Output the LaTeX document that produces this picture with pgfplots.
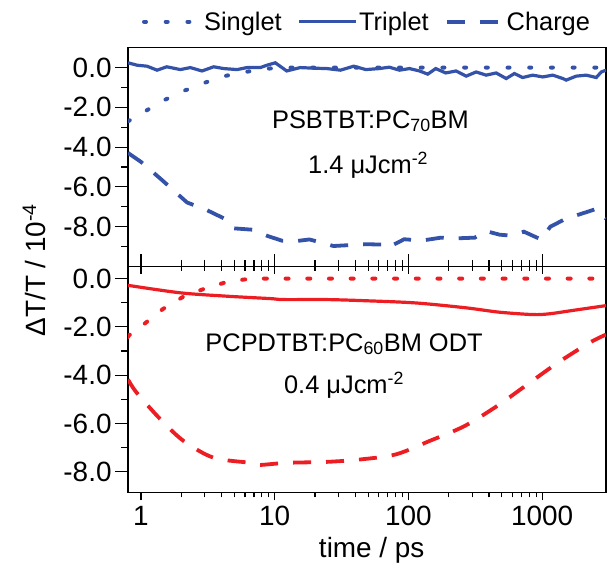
\documentclass[border=0pt]{standalone}
\usepackage{fontspec}
\setmainfont{Liberation Sans}
\usepackage{pgfplots}
\pgfplotsset{compat=1.18}
\definecolor{cblue}{RGB}{52,82,168}
\definecolor{cred}{RGB}{236,30,36}
\newcommand{\tfont}{\fontsize{28}{32}\selectfont}
\newcommand{\afont}{\fontsize{25.5}{30}\selectfont}
\tikzset{
  mydot/.style={line width=4bp, line cap=round, dash pattern=on 2bp off 19.7bp},
  mydotr/.style={line width=4bp, line cap=round, dash pattern=on 3bp off 18.7bp},
  mysol/.style={line width=3.2bp},
  mydash/.style={line width=3.8bp, dash pattern=on 18bp off 15bp},
}
\begin{document}
\begin{tikzpicture}
% ---------- top panel ----------
\begin{axis}[scale only axis, width=478bp, height=218.8bp,
  at={(128bp,520.3bp)}, anchor=north west,
  xmode=log, xmin=0.8, xmax=3000, ymin=-10, ymax=1,
  axis line style={line width=1.2bp},
  tick style={black, line width=1.1bp},
  tick label style={font=\tfont},
  ytick pos=left, ytick align=outside,
  ytick={-8,-6,-4,-2,0},
  yticklabels={-8.0,-6.0,-4.0,-2.0,0.0},
  minor ytick={-9,-7,-5,-3,-1},
  major tick length=13bp, minor tick length=7bp,
  xmajorticks=false, xminorticks=false,
  xtick={1,10,100,1000}, xticklabels={},
  legend columns=3,
  legend image post style={xscale=3.3},
  legend style={at={(0.5,1)}, anchor=center, yshift=26bp, draw=none, fill=none,
    font=\fontsize{25.5}{30}\selectfont,
    /tikz/every even column/.append style={column sep=14bp}},
]
\addplot[cblue, mydot] coordinates {
(0.8,-2.7)(0.83,-2.64)(1.11,-2.14)(1.52,-1.61)(2.15,-1.14)(3.03,-0.75)(4.27,-0.42)(6.0,-0.22)(9,-0.05)(12,0)(100,0)(1000,0)(3000,0)};
\addlegendentry{Singlet}
\addplot[cblue, mysol] coordinates {
(0.8,0.24)(0.935,0.12)(1.11,0.07)(1.32,-0.13)(1.56,0.04)(1.97,-0.10)(2.34,0.00)(2.86,-0.17)(3.5,0.04)(4.16,-0.05)(5.23,-0.10)(6.2,0.00)(7.8,0.00)(8.76,0.12)(10.1,0.24)(12.3,-0.17)(15.5,0.00)(19.6,-0.03)(24.6,-0.05)(31,-0.13)(39,0.07)(48,-0.10)(60.4,-0.05)(71.9,0.02)(85.6,-0.13)(101.8,-0.05)(121,-0.17)(139.4,-0.33)(160,-0.05)(190,-0.27)(227,-0.17)(270,-0.43)(321,-0.22)(381,-0.38)(453,-0.27)(538,-0.55)(620,-0.30)(714,-0.50)(849,-0.38)(1010,-0.47)(1200,-0.38)(1427,-0.55)(1512,-0.63)(1796,-0.43)(2135,-0.38)(2537,-0.50)(2766,-0.22)(3000,-0.13)};
\addlegendentry{Triplet}
\addplot[cblue, mydash] coordinates {
(0.8,-4.29)(1.0,-4.74)(1.44,-5.66)(2.21,-6.78)(3.12,-7.17)(4.2,-7.59)(4.9,-8.08)(6.8,-8.15)(8.8,-8.46)(11.4,-8.71)(14.6,-8.72)(18.2,-8.64)(27.5,-8.97)(48,-8.88)(66,-8.9)(70,-9.05)(93,-8.63)(125,-8.7)(175,-8.55)(219,-8.59)(313,-8.55)(380,-8.22)(480,-8.4)(590,-8.45)(730,-8.25)(980,-8.64)(1150,-8.0)(1500,-7.6)(2300,-7.2)(2550,-7.1)(3000,-7.6)};
\addlegendentry{Charge}
\node[font=\afont, anchor=base] at (axis cs:52,-3.04) {PSBTBT:PC\textsubscript{70}BM};
\node[font=\afont, anchor=base] at (axis cs:50,-5.3) {1.4 μJcm\textsuperscript{-2}};
\end{axis}
% ticks on the shared line, pointing up
\begin{axis}[scale only axis, width=478bp, height=218.8bp,
  at={(128bp,520.3bp)}, anchor=north west,
  xmode=log, xmin=0.8, xmax=3000, ymin=0, ymax=1,
  axis line style={draw=none}, tick style={black, line width=1.1bp},
  ymajorticks=false, yminorticks=false, ytick=\empty,
  xtick={1,10,100,1000}, xticklabels={},
  xtick pos=bottom, xtick align=inside, major tick length=12bp, minor tick length=6bp]
\end{axis}
% ---------- bottom panel ----------
\begin{axis}[scale only axis, width=478bp, height=225.8bp,
  at={(128bp,301.5bp)}, anchor=north west,
  xmode=log, xmin=0.8, xmax=3000, ymin=-8.85, ymax=0.5,
  axis line style={line width=1.2bp},
  tick style={black, line width=1.1bp},
  tick label style={font=\tfont},
  ytick pos=left, ytick align=outside,
  ytick={-8,-6,-4,-2,0},
  yticklabels={-8.0,-6.0,-4.0,-2.0,0.0},
  minor ytick={-7,-5,-3,-1},
  major tick length=13bp, minor tick length=7bp,
  xmajorticks=false, xminorticks=false,
  xtick={1,10,100,1000}, xticklabels={}]
\addplot[cred, mydotr] coordinates {
(0.8,-2.42)(0.81,-2.36)(1.08,-1.84)(1.46,-1.26)(2.06,-0.76)(2.95,-0.43)(4.16,-0.18)(5.86,-0.04)(8,0)(100,0)(1000,0)(3000,0)};
\addplot[cred, mysol, smooth] coordinates {
(0.8,-0.28)(1.97,-0.59)(4.4,-0.73)(9.3,-0.83)(11.7,-0.87)(24.6,-0.87)(49,-0.92)(114,-1.01)(268,-1.21)(475,-1.39)(846,-1.49)(1127,-1.46)(1688,-1.32)(3000,-1.12)};
\addplot[cred, mydash, smooth] coordinates {
(0.8,-4.18)(0.93,-4.73)(1.4,-5.83)(2.09,-6.73)(3.5,-7.42)(6.6,-7.63)(7.6,-7.72)(12.3,-7.63)(24.6,-7.59)(43.7,-7.49)(80.6,-7.28)(143,-6.73)(262,-6.11)(465,-5.26)(803,-4.32)(1304,-3.49)(2251,-2.66)(3000,-2.32)};
\node[font=\afont, anchor=base] at (axis cs:33,-3.0) {PCPDTBT:PC\textsubscript{60}BM ODT};
\node[font=\afont, anchor=base] at (axis cs:33,-4.76) {0.4 μJcm\textsuperscript{-2}};
\end{axis}
% ticks on the shared line, pointing down
\begin{axis}[scale only axis, width=478bp, height=225.8bp,
  at={(128bp,301.5bp)}, anchor=north west,
  xmode=log, xmin=0.8, xmax=3000, ymin=0, ymax=1,
  axis line style={draw=none}, tick style={black, line width=1.1bp},
  ymajorticks=false, yminorticks=false, ytick=\empty,
  xtick={1,10,100,1000}, xticklabels={},
  xtick pos=top, xtick align=inside, major tick length=8bp, minor tick length=5bp]
\end{axis}
% bottom ticks, pointing down, with labels
\begin{axis}[scale only axis, width=478bp, height=225.8bp,
  at={(128bp,301.5bp)}, anchor=north west,
  xmode=log, xmin=0.8, xmax=3000, ymin=0, ymax=1,
  axis line style={draw=none}, tick style={black, line width=1.1bp},
  tick label style={font=\tfont},
  ymajorticks=false, yminorticks=false, ytick=\empty,
  xtick={1,10,100,1000}, xticklabels={1,10,100,1000}, xticklabel shift=2bp,
  xtick pos=bottom, xtick align=outside, major tick length=8bp, minor tick length=5bp]
\end{axis}
% ---------- labels ----------
\node[font=\fontsize{28}{32}\selectfont, rotate=90, anchor=center] at (34bp,298bp) {ΔT/T / 10\textsuperscript{-4}};
\node[font=\fontsize{28}{32}\selectfont, anchor=base] at (371.7bp,10.3bp) {time / ps};
\pgfresetboundingbox
\path[use as bounding box] (0bp,0bp) rectangle (607bp,568bp);
\end{tikzpicture}
\end{document}
